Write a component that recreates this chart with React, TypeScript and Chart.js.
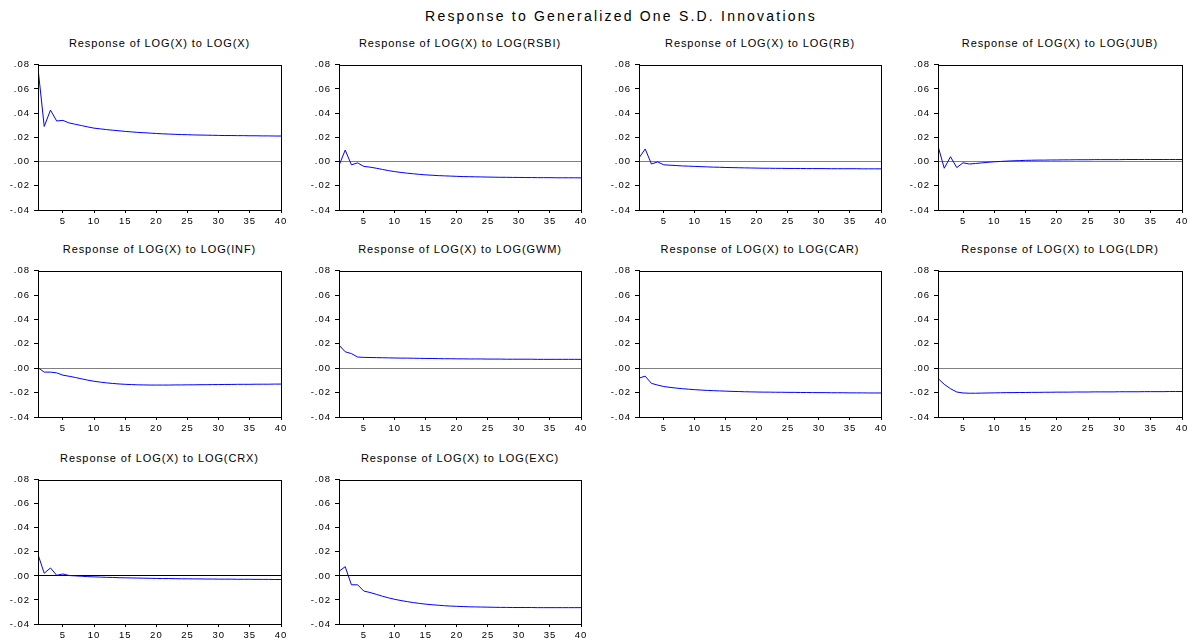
import React, { useEffect, useRef } from 'react';
import { Chart, registerables } from 'chart.js';

Chart.register(...registerables);

// ---------------- data ----------------
const MAIN_TITLE = 'Response to Generalized One S.D. Innovations';

const PERIODS = [1, 2, 3, 4, 5, 6, 7, 8, 9, 10, 11, 12, 13, 14, 15, 16, 17, 18, 19, 20,
  21, 22, 23, 24, 25, 26, 27, 28, 29, 30, 31, 32, 33, 34, 35, 36, 37, 38, 39, 40];

const X_TICKS = [5, 10, 15, 20, 25, 30, 35, 40];
const Y_TICK_VALUES = [-0.04, -0.02, 0, 0.02, 0.04, 0.06, 0.08];
const Y_TICK_LABELS = ['-.04', '-.02', '.00', '.02', '.04', '.06', '.08'];

const PANEL_TITLES = [
  'Response of LOG(X) to LOG(X)',
  'Response of LOG(X) to LOG(RSBI)',
  'Response of LOG(X) to LOG(RB)',
  'Response of LOG(X) to LOG(JUB)',
  'Response of LOG(X) to LOG(INF)',
  'Response of LOG(X) to LOG(GWM)',
  'Response of LOG(X) to LOG(CAR)',
  'Response of LOG(X) to LOG(LDR)',
  'Response of LOG(X) to LOG(CRX)',
  'Response of LOG(X) to LOG(EXC)',
];

const RESP_X = [0.0770, 0.0290, 0.0425, 0.0335, 0.0340, 0.0319, 0.0308, 0.0297, 0.0286, 0.0276,
  0.0270, 0.0264, 0.0259, 0.0254, 0.0249, 0.0245, 0.0241, 0.0238, 0.0235, 0.0232,
  0.0229, 0.0227, 0.0225, 0.0223, 0.0222, 0.0220, 0.0219, 0.0218, 0.0217, 0.0216,
  0.0215, 0.0215, 0.0214, 0.0214, 0.0213, 0.0213, 0.0212, 0.0212, 0.0211, 0.0211];

const RESP_RSBI = [-0.0033, 0.0095, -0.0027, -0.0011, -0.0040, -0.0046, -0.0055, -0.0065, -0.0075, -0.0083,
  -0.0090, -0.0096, -0.0101, -0.0106, -0.0110, -0.0113, -0.0116, -0.0118, -0.0120, -0.0122,
  -0.0124, -0.0125, -0.0126, -0.0127, -0.0128, -0.0129, -0.0130, -0.0130, -0.0131, -0.0131,
  -0.0132, -0.0132, -0.0133, -0.0133, -0.0133, -0.0134, -0.0134, -0.0134, -0.0134, -0.0135];

const RESP_RB = [0.0030, 0.0104, -0.0020, -0.0003, -0.0027, -0.0030, -0.0033, -0.0036, -0.0038, -0.0040,
  -0.0042, -0.0044, -0.0046, -0.0047, -0.0049, -0.0050, -0.0051, -0.0052, -0.0053, -0.0054,
  -0.0055, -0.0055, -0.0056, -0.0056, -0.0057, -0.0057, -0.0057, -0.0058, -0.0058, -0.0058,
  -0.0058, -0.0059, -0.0059, -0.0059, -0.0059, -0.0059, -0.0060, -0.0060, -0.0060, -0.0060];

const RESP_JUB = [0.0128, -0.0055, 0.0040, -0.0050, -0.0010, -0.0020, -0.0016, -0.0011, -0.0006, -0.0002,
  0.0001, 0.0004, 0.0006, 0.0008, 0.0010, 0.0011, 0.0012, 0.0012, 0.0013, 0.0013,
  0.0014, 0.0014, 0.0015, 0.0015, 0.0015, 0.0016, 0.0016, 0.0016, 0.0016, 0.0016,
  0.0017, 0.0017, 0.0017, 0.0017, 0.0017, 0.0017, 0.0017, 0.0017, 0.0017, 0.0017];

const RESP_INF = [0.0005, -0.0032, -0.0032, -0.0038, -0.0057, -0.0066, -0.0076, -0.0087, -0.0098, -0.0107,
  -0.0114, -0.0120, -0.0125, -0.0129, -0.0132, -0.0134, -0.0136, -0.0137, -0.0138, -0.0138,
  -0.0138, -0.0138, -0.0137, -0.0137, -0.0136, -0.0136, -0.0135, -0.0135, -0.0134, -0.0134,
  -0.0133, -0.0133, -0.0132, -0.0132, -0.0132, -0.0131, -0.0131, -0.0131, -0.0130, -0.0130];

const RESP_GWM = [0.0190, 0.0135, 0.0120, 0.0092, 0.0089, 0.0088, 0.0087, 0.0086, 0.0085, 0.0084,
  0.0083, 0.0083, 0.0082, 0.0081, 0.0080, 0.0080, 0.0079, 0.0078, 0.0078, 0.0077,
  0.0077, 0.0076, 0.0076, 0.0076, 0.0075, 0.0075, 0.0075, 0.0074, 0.0074, 0.0074,
  0.0074, 0.0074, 0.0073, 0.0073, 0.0073, 0.0073, 0.0073, 0.0073, 0.0073, 0.0073];

const RESP_CAR = [-0.0081, -0.0065, -0.0124, -0.0138, -0.0150, -0.0157, -0.0163, -0.0168, -0.0172, -0.0176,
  -0.0179, -0.0182, -0.0184, -0.0186, -0.0188, -0.0190, -0.0191, -0.0193, -0.0194, -0.0195,
  -0.0196, -0.0196, -0.0197, -0.0197, -0.0198, -0.0198, -0.0199, -0.0199, -0.0200, -0.0200,
  -0.0200, -0.0201, -0.0201, -0.0201, -0.0202, -0.0202, -0.0202, -0.0203, -0.0203, -0.0203];

const RESP_LDR = [-0.0084, -0.0132, -0.0168, -0.0195, -0.0203, -0.0205, -0.0205, -0.0204, -0.0203, -0.0202,
  -0.0201, -0.0200, -0.0200, -0.0199, -0.0199, -0.0198, -0.0198, -0.0197, -0.0197, -0.0196,
  -0.0196, -0.0196, -0.0195, -0.0195, -0.0195, -0.0194, -0.0194, -0.0194, -0.0194, -0.0193,
  -0.0193, -0.0193, -0.0193, -0.0192, -0.0192, -0.0192, -0.0192, -0.0191, -0.0191, -0.0191];

const RESP_CRX = [0.0178, 0.0022, 0.0066, 0.0005, 0.0016, 0.0003, 0.0000, -0.0003, -0.0006, -0.0008,
  -0.0010, -0.0012, -0.0013, -0.0015, -0.0016, -0.0017, -0.0018, -0.0019, -0.0020, -0.0021,
  -0.0022, -0.0022, -0.0023, -0.0024, -0.0024, -0.0025, -0.0025, -0.0026, -0.0026, -0.0027,
  -0.0027, -0.0027, -0.0028, -0.0028, -0.0028, -0.0029, -0.0029, -0.0029, -0.0030, -0.0030];

const RESP_EXC = [0.0038, 0.0077, -0.0074, -0.0074, -0.0126, -0.0138, -0.0153, -0.0169, -0.0183, -0.0195,
  -0.0205, -0.0214, -0.0222, -0.0229, -0.0235, -0.0240, -0.0244, -0.0248, -0.0251, -0.0253,
  -0.0255, -0.0257, -0.0258, -0.0259, -0.0260, -0.0261, -0.0262, -0.0262, -0.0263, -0.0263,
  -0.0263, -0.0263, -0.0264, -0.0264, -0.0264, -0.0264, -0.0264, -0.0264, -0.0264, -0.0264];

const PANEL_SERIES = [RESP_X, RESP_RSBI, RESP_RB, RESP_JUB, RESP_INF, RESP_GWM, RESP_CAR, RESP_LDR, RESP_CRX, RESP_EXC];

// ---------------- layout / style ----------------
const COL_L = [38, 339, 639, 938];
const COL_R = [281, 581, 881, 1182];
const ROW_T = [63, 269, 478];
const ROW_B = [210, 417, 624];
const Y_AXIS_W = 40;
const X_AXIS_H = 22;
const PAD_T = 8;
const PAD_R = 10;
const FONT = 'Arial, "Liberation Sans", sans-serif';
const ZERO_LINE_COLORS = ['#808080', '#808080', '#808080', '#808080', '#808080', '#808080', '#808080', '#808080', '#000000', '#000000'];

const framePlugin = {
  id: 'frame',
  beforeDraw(chart: any) {
    (chart.ctx as any).letterSpacing = '1px';
  },
  afterDraw(chart: any) {
    const { ctx, chartArea } = chart;
    const l = Math.round(chartArea.left);
    const t = Math.round(chartArea.top);
    const r = Math.round(chartArea.right);
    const b = Math.round(chartArea.bottom);
    ctx.save();
    ctx.strokeStyle = '#000';
    ctx.lineWidth = 1;
    ctx.strokeRect(l + 0.5, t + 0.5, r - l, b - t);
    ctx.restore();
  },
};

function Panel({ index }: { index: number }) {
  const ref = useRef<HTMLCanvasElement>(null);
  const col = index % 4;
  const row = Math.floor(index / 4);
  const plotL = COL_L[col];
  const plotR = COL_R[col];
  const plotT = ROW_T[row];
  const plotB = ROW_B[row];
  const w = plotR - plotL + Y_AXIS_W + PAD_R;
  const h = plotB - plotT + PAD_T + X_AXIS_H;
  const values = PANEL_SERIES[index];
  const zeroColor = ZERO_LINE_COLORS[index];

  useEffect(() => {
    const chart = new Chart(ref.current as HTMLCanvasElement, {
      type: 'line',
      data: {
        datasets: [
          {
            data: PERIODS.map((p, i) => ({ x: p, y: values[i] })),
            borderColor: '#0000ff',
            borderWidth: 1,
            pointRadius: 0,
            tension: 0,
            fill: false,
          },
        ],
      },
      options: {
        animation: false,
        responsive: false,
        maintainAspectRatio: false,
        events: [],
        layout: { padding: { top: PAD_T, right: PAD_R, left: 0, bottom: 0 } },
        plugins: {
          legend: { display: false },
          tooltip: { enabled: false },
          title: { display: false },
        },
        scales: {
          x: {
            type: 'linear',
            min: 1,
            max: 40,
            afterBuildTicks: (s: any) => {
              s.ticks = X_TICKS.map((v) => ({ value: v }));
            },
            afterFit: (s: any) => {
              s.height = X_AXIS_H;
            },
            grid: { drawOnChartArea: false, drawTicks: true, tickLength: 3, tickColor: '#000', color: '#000' },
            border: { display: true, color: '#000', width: 1 },
            ticks: {
              color: '#000',
              font: { family: FONT, size: 9.5 },
              padding: 3,
              maxRotation: 0,
              autoSkip: false,
              callback: (v: any) => String(v),
            },
          },
          y: {
            type: 'linear',
            min: -0.04,
            max: 0.08,
            afterBuildTicks: (s: any) => {
              s.ticks = Y_TICK_VALUES.map((v) => ({ value: v }));
            },
            afterFit: (s: any) => {
              s.width = Y_AXIS_W;
            },
            grid: {
              drawOnChartArea: true,
              drawTicks: true,
              tickLength: 4,
              tickColor: '#000',
              lineWidth: 1,
              color: (ctx: any) =>
                ctx.tick && Math.abs(ctx.tick.value) < 1e-9 ? zeroColor : 'rgba(0,0,0,0)',
            },
            border: { display: true, color: '#000', width: 1 },
            ticks: {
              color: '#000',
              font: { family: FONT, size: 9.5 },
              padding: 4,
              autoSkip: false,
              callback: (v: any) => {
                const k = Y_TICK_VALUES.findIndex((t) => Math.abs(t - Number(v)) < 1e-9);
                return k >= 0 ? Y_TICK_LABELS[k] : '';
              },
            },
          },
        },
      } as any,
      plugins: [framePlugin],
    });
    return () => chart.destroy();
  }, []);

  return (
    <>
      <div
        style={{
          position: 'absolute',
          left: plotL - 40,
          width: plotR - plotL + 80,
          top: plotT - 29,
          height: 18,
          lineHeight: '18px',
          textAlign: 'center',
          fontFamily: FONT,
          fontSize: 11,
          letterSpacing: '0.9px',
          color: '#000',
          whiteSpace: 'nowrap',
        }}
      >
        {PANEL_TITLES[index]}
      </div>
      <canvas
        ref={ref}
        width={w}
        height={h}
        style={{
          position: 'absolute',
          left: plotL - Y_AXIS_W,
          top: plotT - PAD_T,
          width: w,
          height: h,
        }}
      />
    </>
  );
}

export default function App() {
  return (
    <div
      style={{
        position: 'absolute',
        left: 0,
        top: 0,
        width: 1193,
        height: 642,
        background: '#fff',
        overflow: 'hidden',
      }}
    >
      <div
        style={{
          position: 'absolute',
          left: 321,
          width: 600,
          top: 6,
          height: 20,
          lineHeight: '20px',
          textAlign: 'center',
          fontFamily: FONT,
          fontSize: 14,
          letterSpacing: '2.2px',
          color: '#000',
          whiteSpace: 'nowrap',
        }}
      >
        {MAIN_TITLE}
      </div>
      {PANEL_SERIES.map((_, i) => (
        <Panel key={i} index={i} />
      ))}
    </div>
  );
}
